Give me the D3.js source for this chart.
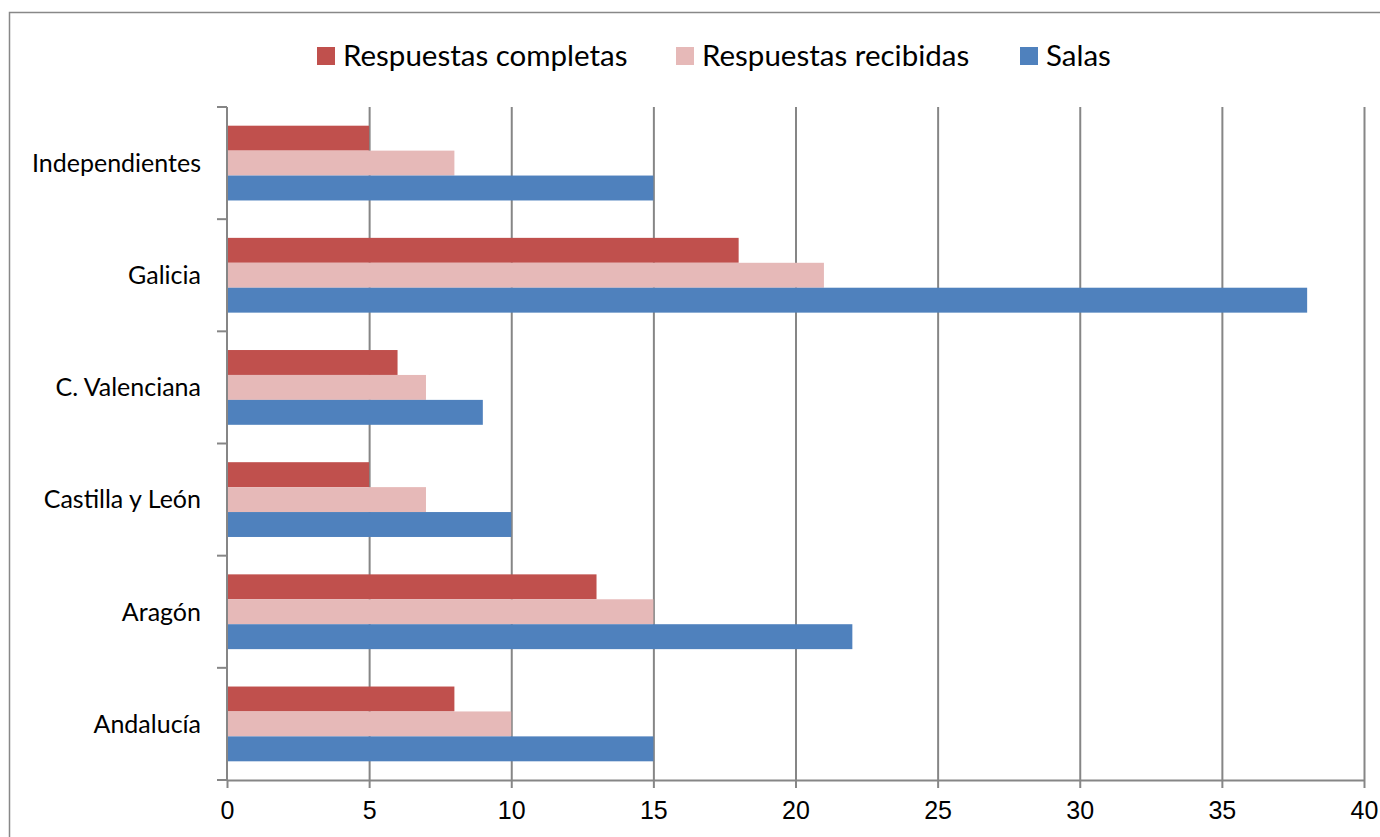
<!DOCTYPE html>
<html>
<head>
<meta charset="utf-8">
<script src="https://cdn.jsdelivr.net/npm/d3@7"></script>
<style>
body { margin: 0; background: #fff; }
svg { display: block; font-family: Lato, "Open Sans", sans-serif; }
.grid line { stroke: #868686; stroke-width: 2; }
.grid path { display: none; }
.axis path, .axis line { stroke: #868686; stroke-width: 2; }
.axis text { fill: #000; font-size: 25px; }
</style>
</head>
<body>
<div class="chart"></div>
<script>
// Data ---------------------------------------------------------------------
const categories = ["Independientes", "Galicia", "C. Valenciana", "Castilla y León", "Aragón", "Andalucía"];
const seriesNames = ["Respuestas completas", "Respuestas recibidas", "Salas"];
const completas = [5, 18, 6, 5, 13, 8];
const recibidas = [8, 21, 7, 7, 15, 10];
const salas = [15, 38, 9, 10, 22, 15];
const xTicks = [0, 5, 10, 15, 20, 25, 30, 35, 40];
const colors = ["#C0504D", "#E6B9B8", "#4F81BD"];

const seriesValues = [completas, recibidas, salas];
const data = categories.map((c, i) => ({
  category: c,
  values: seriesNames.map((s, j) => ({ key: s, value: seriesValues[j][i] }))
}));

// SVG Dimensions ---------------------------------------------------------------------
const width = 1380;
const height = 837;
const margin = { top: 107, right: 16, bottom: 57, left: 227 };

const svg = d3.select(".chart")
  .append("svg")
  .attr("width", width)
  .attr("height", height);

// chart border
svg.append("rect")
  .attr("x", 9.5)
  .attr("y", 12.5)
  .attr("width", width + 10)
  .attr("height", height + 10)
  .attr("fill", "none")
  .attr("stroke", "#888")
  .attr("stroke-width", 1.5);

// Scales ---------------------------------------------------------------------
const xScale = d3.scaleLinear()
  .domain([0, 40])
  .range([margin.left, width - margin.right]);

const yScale = d3.scaleBand()
  .domain(categories)
  .range([margin.top, height - margin.bottom]);

const inner = d3.scaleBand()
  .domain(seriesNames)
  .range([0, yScale.bandwidth()])
  .paddingOuter(0.75)
  .paddingInner(0);

// Grid ---------------------------------------------------------------------
const xGrid = d3.axisBottom(xScale)
  .tickValues(xTicks.slice(1))
  .tickSize(-(height - margin.bottom - margin.top))
  .tickFormat("");

svg.append("g")
  .attr("class", "grid")
  .attr("transform", `translate(0, ${height - margin.bottom})`)
  .call(xGrid);

// Bars ---------------------------------------------------------------------
const groups = svg.append("g")
  .selectAll("g")
  .data(data)
  .join("g")
  .attr("transform", d => `translate(0, ${yScale(d.category)})`);

groups.selectAll("rect")
  .data(d => d.values)
  .join("rect")
  .attr("x", xScale(0))
  .attr("y", d => inner(d.key))
  .attr("width", d => xScale(d.value) - xScale(0))
  .attr("height", inner.bandwidth())
  .attr("fill", (d, i) => colors[i]);

// Axes ---------------------------------------------------------------------
const xAxis = d3.axisBottom(xScale)
  .tickValues(xTicks)
  .tickSize(8)
  .tickPadding(13)
  .tickSizeOuter(0);

svg.append("g")
  .attr("class", "axis")
  .attr("transform", `translate(0, ${height - margin.bottom})`)
  .call(xAxis);

// left axis: tick marks at band boundaries, labels at band centres
const yAxisG = svg.append("g").attr("class", "axis");
yAxisG.append("line")
  .attr("x1", xScale(0)).attr("x2", xScale(0))
  .attr("y1", margin.top).attr("y2", height - margin.bottom);
const bounds = categories.map(c => yScale(c)).concat([height - margin.bottom]);
yAxisG.selectAll(".btick")
  .data(bounds)
  .join("line")
  .attr("class", "btick")
  .attr("x1", xScale(0) - 10).attr("x2", xScale(0))
  .attr("y1", d => d).attr("y2", d => d);
yAxisG.selectAll("text")
  .data(categories)
  .join("text")
  .attr("x", 201)
  .attr("y", d => yScale(d) + yScale.bandwidth() / 2)
  .attr("dy", "0.35em")
  .attr("text-anchor", "end")
  .text(d => d);

// Legend ---------------------------------------------------------------------
const legendX = [317, 676, 1020];
const legend = svg.append("g")
  .selectAll("g")
  .data(seriesNames)
  .join("g")
  .attr("transform", (d, i) => `translate(${legendX[i]}, 47)`);

legend.append("rect")
  .attr("width", 18)
  .attr("height", 18)
  .attr("fill", (d, i) => colors[i]);

legend.append("text")
  .attr("x", 26)
  .attr("y", 9)
  .attr("dy", "0.35em")
  .attr("font-size", 29.5)
  .text(d => d);
</script>
</body>
</html>
